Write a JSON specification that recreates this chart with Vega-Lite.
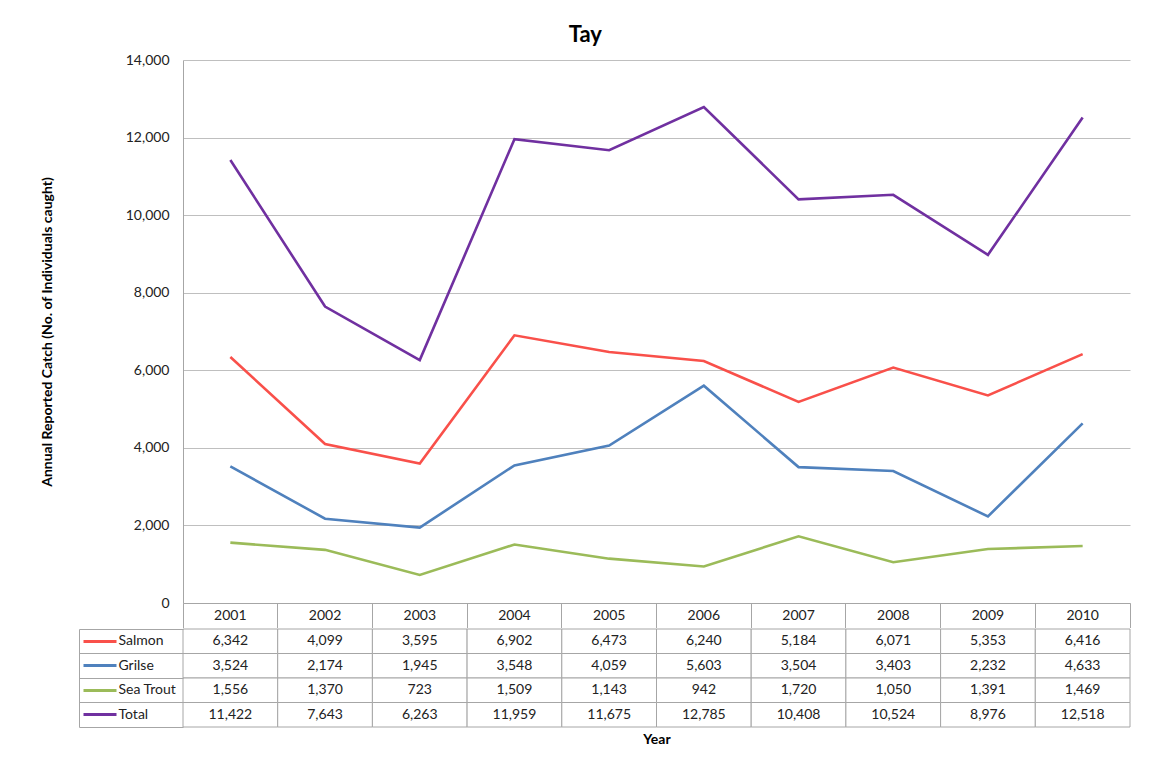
{
  "$schema": "https://vega.github.io/schema/vega-lite/v6.json",
  "background": "white",
  "padding": {"left": 40, "top": 24, "right": 5, "bottom": 5},
  "title": {"text": "Tay", "font": "Lato", "fontSize": 22, "fontWeight": "bold", "color": "#000", "anchor": "middle", "offset": 6},
  "config": {"view": {"stroke": null}, "font": "Lato"},
  "spacing": 0,
  "datasets": {
    "catch": [
      {"Series": "Salmon", "Year": 2001, "Value": 6342},
      {"Series": "Salmon", "Year": 2002, "Value": 4099},
      {"Series": "Salmon", "Year": 2003, "Value": 3595},
      {"Series": "Salmon", "Year": 2004, "Value": 6902},
      {"Series": "Salmon", "Year": 2005, "Value": 6473},
      {"Series": "Salmon", "Year": 2006, "Value": 6240},
      {"Series": "Salmon", "Year": 2007, "Value": 5184},
      {"Series": "Salmon", "Year": 2008, "Value": 6071},
      {"Series": "Salmon", "Year": 2009, "Value": 5353},
      {"Series": "Salmon", "Year": 2010, "Value": 6416},
      {"Series": "Grilse", "Year": 2001, "Value": 3524},
      {"Series": "Grilse", "Year": 2002, "Value": 2174},
      {"Series": "Grilse", "Year": 2003, "Value": 1945},
      {"Series": "Grilse", "Year": 2004, "Value": 3548},
      {"Series": "Grilse", "Year": 2005, "Value": 4059},
      {"Series": "Grilse", "Year": 2006, "Value": 5603},
      {"Series": "Grilse", "Year": 2007, "Value": 3504},
      {"Series": "Grilse", "Year": 2008, "Value": 3403},
      {"Series": "Grilse", "Year": 2009, "Value": 2232},
      {"Series": "Grilse", "Year": 2010, "Value": 4633},
      {"Series": "Sea Trout", "Year": 2001, "Value": 1556},
      {"Series": "Sea Trout", "Year": 2002, "Value": 1370},
      {"Series": "Sea Trout", "Year": 2003, "Value": 723},
      {"Series": "Sea Trout", "Year": 2004, "Value": 1509},
      {"Series": "Sea Trout", "Year": 2005, "Value": 1143},
      {"Series": "Sea Trout", "Year": 2006, "Value": 942},
      {"Series": "Sea Trout", "Year": 2007, "Value": 1720},
      {"Series": "Sea Trout", "Year": 2008, "Value": 1050},
      {"Series": "Sea Trout", "Year": 2009, "Value": 1391},
      {"Series": "Sea Trout", "Year": 2010, "Value": 1469},
      {"Series": "Total", "Year": 2001, "Value": 11422},
      {"Series": "Total", "Year": 2002, "Value": 7643},
      {"Series": "Total", "Year": 2003, "Value": 6263},
      {"Series": "Total", "Year": 2004, "Value": 11959},
      {"Series": "Total", "Year": 2005, "Value": 11675},
      {"Series": "Total", "Year": 2006, "Value": 12785},
      {"Series": "Total", "Year": 2007, "Value": 10408},
      {"Series": "Total", "Year": 2008, "Value": 10524},
      {"Series": "Total", "Year": 2009, "Value": 8976},
      {"Series": "Total", "Year": 2010, "Value": 12518}
    ]
  },
  "vconcat": [
    {
      "width": 947,
      "height": 543,
      "data": {"name": "catch"},
      "mark": {"type": "line", "strokeWidth": 2.6},
      "encoding": {
        "x": {
          "field": "Year", "type": "ordinal",
          "scale": {"type": "band", "paddingInner": 0, "paddingOuter": 0},
          "axis": {
            "orient": "bottom", "title": null, "grid": false,
            "bandPosition": 1, "tickExtra": true, "tickSize": 24.5, "tickColor": "#a6a6a6", "tickWidth": 1,
            "domainColor": "#a6a6a6",
            "labelAngle": 0, "labelPadding": -12.5, "labelBaseline": "middle",
            "labelFont": "Lato", "labelFontSize": 14, "labelColor": "#222"
          }
        },
        "y": {
          "field": "Value", "type": "quantitative",
          "scale": {"domain": [0, 14000], "nice": false},
          "axis": {
            "tickCount": 7,
            "labelExpr": "format(datum.value, ',')",
            "grid": true, "gridColor": "#bfbfbf", "ticks": false,
            "domainColor": "#a6a6a6", "labelPadding": 14,
            "labelFont": "Lato", "labelFontSize": 14, "labelColor": "#222",
            "title": "Annual Reported Catch (No. of Individuals caught)",
            "titleFont": "Lato", "titleFontSize": 14, "titleFontWeight": "bold", "titleColor": "#000",
            "titlePadding": 71
          }
        },
        "color": {
          "field": "Series", "type": "nominal",
          "scale": {"domain": ["Salmon", "Grilse", "Sea Trout", "Total"], "range": ["#f9504a", "#4f81bd", "#9bbb59", "#7030a0"]},
          "legend": null
        }
      }
    },
    {
      "width": 947,
      "height": 98,
      "data": {"name": "catch"},
      "resolve": {"axis": {"y": "independent"}},
      "layer": [
        {
          "mark": {"type": "rect", "fill": "white", "stroke": "#a6a6a6", "strokeWidth": 1},
          "encoding": {
            "x": {
              "field": "Year", "type": "ordinal",
              "scale": {"type": "band", "paddingInner": 0, "paddingOuter": 0},
              "axis": {
                "orient": "bottom", "labels": false, "ticks": false, "domain": false, "grid": false,
                "title": "Year", "titleFont": "Lato", "titleFontSize": 14, "titleFontWeight": "bold", "titleColor": "#000", "titlePadding": 5
              }
            },
            "y": {
              "field": "Series", "type": "nominal",
              "scale": {"domain": ["Salmon", "Grilse", "Sea Trout", "Total"], "paddingInner": 0, "paddingOuter": 0},
              "axis": {
                "orient": "left", "title": null, "grid": false, "labels": false, "domain": false,
                "bandPosition": 1, "tickExtra": true, "tickSize": 104, "tickColor": "#a6a6a6", "tickWidth": 1
              }
            }
          }
        },
        {
          "mark": {"type": "text", "font": "Lato", "fontSize": 14, "color": "#222"},
          "encoding": {
            "x": {"field": "Year", "type": "ordinal"},
            "y": {
              "field": "Series", "type": "nominal",
              "axis": {
                "orient": "left", "offset": 104, "title": null, "grid": false, "labels": false, "ticks": false,
                "domain": true, "domainColor": "#a6a6a6", "domainWidth": 1
              }
            },
            "text": {"field": "Value", "type": "quantitative", "format": ","}
          }
        },
        {
          "mark": {"type": "point", "opacity": 0},
          "encoding": {
            "x": {"field": "Year", "type": "ordinal"},
            "y": {
              "field": "Series", "type": "nominal",
              "axis": {
                "orient": "left", "offset": 67, "title": null, "grid": false, "domain": false,
                "ticks": true, "tickSize": 33, "tickWidth": 3, "tickCap": "butt",
                "tickColor": {"expr": "datum.value === 'Salmon' ? '#f9504a' : datum.value === 'Grilse' ? '#4f81bd' : datum.value === 'Sea Trout' ? '#9bbb59' : '#7030a0'"},
                "labels": true, "labelAlign": "left", "labelBaseline": "middle", "labelPadding": -35,
                "labelFont": "Lato", "labelFontSize": 14, "labelColor": "#222"
              }
            }
          }
        }
      ]
    }
  ]
}
